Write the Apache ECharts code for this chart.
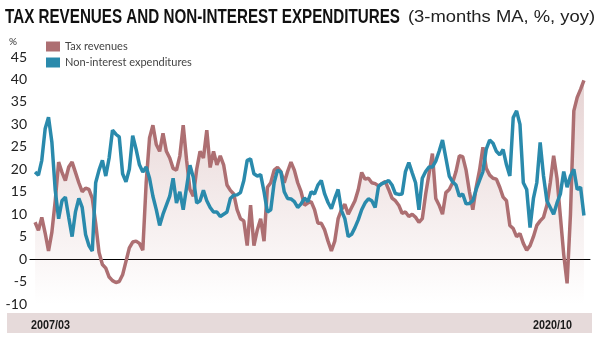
<!DOCTYPE html>
<html><head><meta charset="utf-8">
<script src="https://cdn.jsdelivr.net/npm/echarts@6/dist/echarts.min.js"></script>
<style>html,body{margin:0;padding:0;background:#fff}#c{width:603px;height:343px}</style>
</head><body><div id="c"></div>
<script>
// ---- data (3-months MA, % yoy, monthly 2007/03 .. 2020/10) ----
const seriesNames = ['Tax revenues', 'Non-interest expenditures'];
const periodLabels = ['2007/03', '2020/10'];
const yTickLabels = [-10, -5, 0, 5, 10, 15, 20, 25, 30, 35, 40, 45];
const titleText = 'TAX REVENUES AND NON-INTEREST EXPENDITURES';
const subtitleText = '(3-months MA, %, yoy)';
const unitText = '%';

const taxRevenues = [
  8.2, 6.4, 9.3, 5.8, 1.8, 6, 13, 21.6, 19.3, 17.5,
  20.5, 21.6, 19.3, 17, 15, 15.8, 15.5, 13.5, 8, 1.5,
  -1.2, -2, -4, -4.8, -5.2, -5, -3.5, -0.5, 2.5, 3.8,
  4, 3.5, 2, 17, 27, 29.8, 25.5, 24, 28, 24,
  22.5, 20.2, 19.8, 23, 29.8, 22, 15.5, 14, 20, 24,
  22.5, 28.7, 20.4, 24, 21, 23, 21, 16.5, 15.3, 14.5,
  11, 9, 8.5, 3, 12, 3, 6.5, 9, 4, 16,
  17, 19.8, 20.4, 19.5, 17, 19.5, 21.6, 19.8, 17, 15,
  12, 12.5, 12.8, 11, 8, 8, 6.5, 4, 1.8, 4,
  9, 11, 12.2, 10, 11.5, 13, 15.5, 19.3, 17.8, 18,
  17, 16.8, 16.3, 16.8, 17.3, 15.5, 13.6, 13, 12, 10.2,
  10.5, 9.5, 10, 9.3, 8.2, 9, 14.5, 19, 23.5, 13.5,
  12, 10, 14.8, 15.5, 17, 19.5, 23, 22.8, 19.8, 15,
  11, 16, 19.8, 24.9, 20.2, 18.7, 18, 17.8, 16, 13.8,
  13, 7.5, 6.8, 5, 5.7, 3.5, 2, 3, 5, 7.5,
  8.5, 9.3, 12, 17, 23, 18, 9.5, 1, -5.4, 10,
  33, 36, 37.8, 39.8
];

const nonInterestExpenditures = [
  19.4, 18.7, 22, 29, 31.6, 26, 15.3, 9, 13, 13.8,
  9.3, 5, 10.5, 13.5, 11.5, 5.5, 3, 1.8, 17, 19.8,
  22, 18.5, 22.5, 28.7, 27.8, 27.2, 19, 17.2, 20, 27.5,
  24.5, 21, 19.4, 20.5, 18, 14, 11, 7.5, 10, 12,
  14, 18, 12.5, 15, 11, 16, 20.9, 18.2, 12.5, 13,
  15.3, 13, 11.5, 10.5, 10.5, 9.5, 10, 10.5, 13.5, 14.2,
  14.3, 14.8, 17.5, 22, 22.3, 19, 18.5, 18.8, 15, 10.5,
  11, 17, 19.8, 19.4, 15, 13.5, 13.4, 12.8, 11.5, 12.3,
  13.6, 12.8, 15, 14.5, 16.5, 17.5, 14.5, 12.6, 11.2, 13.5,
  15.5, 10.8, 9, 5, 5.5, 7, 8.8, 11, 12.5, 13.4,
  13, 11.5, 16.2, 16.8, 17.1, 17.5, 16.5, 14.6, 14.4, 14.5,
  19.5, 21.5, 19.2, 17, 11, 18, 19.5, 20.5, 20.5, 21.8,
  24, 26.5, 22.5, 18.5, 17.2, 16.5, 14, 14.5, 12.3, 12.4,
  13, 15.5, 17.5, 19.5, 24.5, 26.5, 25.8, 24, 23.2, 24.4,
  21, 18.5, 31.5, 33, 30, 17, 15.5, 7, 13.5, 17,
  26, 18.5, 13, 11.5, 10, 12.5, 14.5, 19.5, 16, 18.5,
  20, 15.5, 16, 9.7
];

// ---- styles ----
const BROWN = '#ad6f72';
const BLUE = '#2a8aac';

const measureCtx = document.createElement('canvas').getContext('2d');
function fitScale(text, font, target) {
  measureCtx.font = font;
  return target / measureCtx.measureText(text).width;
}

const titleFont = 'bold 20px "Liberation Sans"';
const subFont = '16px "Liberation Sans"';
const bandFont = 'bold 13px "Liberation Sans"';

const chart = echarts.init(document.getElementById('c'), null, {renderer: 'canvas'});
const nPts = taxRevenues.length;

chart.setOption({
  animation: false,
  backgroundColor: '#fff',
  grid: {left: 30, right: 13, top: 57, bottom: 39, containLabel: false},
  legend: {
    orient: 'vertical', left: 41, top: 36, icon: 'rect',
    itemWidth: 14, itemHeight: 10, itemGap: 5,
    textStyle: {fontFamily: 'Lato', fontSize: 11, color: '#444', lineHeight: 10},
    data: seriesNames
  },
  xAxis: {
    type: 'value', min: -1.5, max: nPts - 1 + 1.8,
    axisLine: {onZero: true, lineStyle: {color: '#000', width: 1}},
    axisTick: {show: false}, axisLabel: {show: false}, splitLine: {show: false}
  },
  yAxis: {
    type: 'value', min: yTickLabels[0], max: yTickLabels[yTickLabels.length - 1], interval: 5,
    axisLine: {show: false}, axisTick: {show: false}, splitLine: {show: false},
    axisLabel: {fontFamily: 'Lato', fontSize: 14, color: '#222', margin: 3,
      formatter: v => (v < 0 ? '-' + Math.abs(v) : String(v))}
  },
  series: [
    {
      name: seriesNames[0], type: 'line', symbol: 'none',
      data: taxRevenues.map((v, i) => [i, v]),
      lineStyle: {color: BROWN, width: 3.5},
      itemStyle: {color: BROWN},
      areaStyle: {
        origin: 'start',
        color: new echarts.graphic.LinearGradient(0, 0, 0, 1, [
          {offset: 0, color: 'rgba(185,130,130,0.5)'},
          {offset: 1, color: 'rgba(185,130,130,0)'}
        ])
      },
      z: 2
    },
    {
      name: seriesNames[1], type: 'line', symbol: 'none',
      data: nonInterestExpenditures.map((v, i) => [i, v]),
      lineStyle: {color: BLUE, width: 3.5},
      itemStyle: {color: BLUE},
      z: 3
    }
  ],
  graphic: [
    {type: 'text', x: 5, y: 17.5, scaleX: fitScale(titleText, titleFont, 395), z: 10,
     style: {text: titleText, font: titleFont, fill: '#111', verticalAlign: 'middle'}},
    {type: 'text', x: 408, y: 18, scaleX: fitScale(subtitleText, subFont, 187), z: 10,
     style: {text: subtitleText, font: subFont, fill: '#222', verticalAlign: 'middle'}},
    {type: 'text', x: 9, y: 42, z: 10,
     style: {text: unitText, font: '10px Lato', fill: '#333', verticalAlign: 'middle'}},
    {type: 'rect', shape: {x: 7, y: 313, width: 585, height: 20}, z: 0,
     style: {fill: '#e6dada'}},
    {type: 'text', x: 31, y: 325.5, scaleX: fitScale(periodLabels[0], bandFont, 39), z: 10,
     style: {text: periodLabels[0], font: bandFont, fill: '#1a1a1a', verticalAlign: 'middle'}},
    {type: 'text', x: 533, y: 325.5, scaleX: fitScale(periodLabels[1], bandFont, 39), z: 10,
     style: {text: periodLabels[1], font: bandFont, fill: '#1a1a1a', verticalAlign: 'middle'}}
  ]
});
</script>
</body></html>
